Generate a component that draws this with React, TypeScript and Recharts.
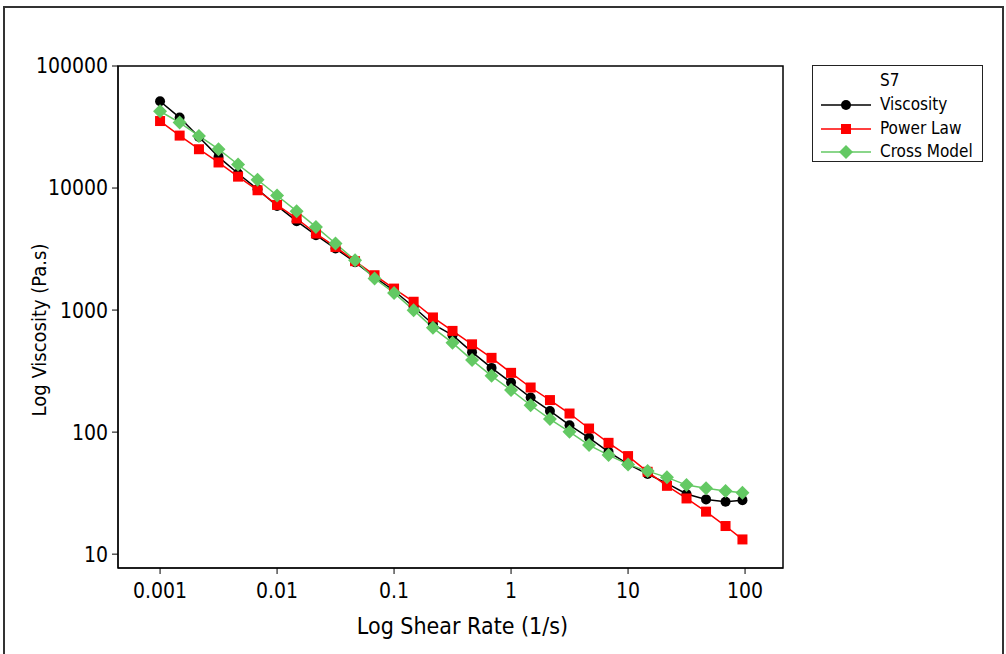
import { LineChart, Line, XAxis, YAxis, ReferenceArea, Label } from "recharts";

const FONT = "'DejaVu Sans Condensed', 'DejaVu Sans', sans-serif";

const shearRate = [
  0.001, 0.00147, 0.00215, 0.00316, 0.00464, 0.00681, 0.01, 0.0147, 0.0215,
  0.0316, 0.0464, 0.0681, 0.1, 0.147, 0.215, 0.316, 0.464, 0.681, 1, 1.47,
  2.15, 3.16, 4.64, 6.81, 10, 14.7, 21.5, 31.6, 46.4, 68.1, 95,
];

const viscosity = [
  51400, 37800, 26200, 18000, 13150, 9780, 7140, 5350, 4110, 3195, 2470,
  1860, 1440, 1060, 766, 623, 452, 336, 255, 192, 149, 114, 89.8, 69, 54.7,
  45.3, 38, 31.1, 28.1, 26.9, 27.7,
];

const powerLaw = [
  35400, 26900, 20800, 16200, 12400, 9590, 7270, 5630, 4240, 3290, 2515,
  1930, 1500, 1170, 870, 675, 524, 406, 306, 232, 183, 142, 107, 81.7, 63.6,
  47.3, 36.3, 28.6, 22.3, 17.0, 13.2,
];

const crossModel = [
  42600, 34400, 26700, 20800, 15600, 11700, 8680, 6460, 4800, 3510, 2560,
  1815, 1383, 998, 715, 539, 389, 289, 221, 166, 128, 100.6, 78.3, 64.8,
  54.4, 47.9, 42.6, 36.8, 34.6, 32.9, 31.8,
];

const xTicks = [0.001, 0.01, 0.1, 1, 10, 100];
const yTicks = [10, 100, 1000, 10000, 100000];
const xDomain = [0.000437, 211];
const yDomain = [7.7, 100000];

const data = shearRate.map((x, i) => ({
  x,
  viscosity: viscosity[i],
  powerLaw: powerLaw[i],
  crossModel: crossModel[i],
}));

const BLACK = "#000000";
const RED = "#ff0000";
const GREEN = "#63c963";

const SquareDot = (props: any) => {
  const { cx, cy, index } = props;
  return <rect key={`sq-${index}`} x={cx - 5} y={cy - 5} width={10} height={10} fill={RED} />;
};

const DiamondDot = (props: any) => {
  const { cx, cy, index } = props;
  const r = 7;
  return (
    <polygon
      key={`dm-${index}`}
      points={`${cx},${cy - r} ${cx + r},${cy} ${cx},${cy + r} ${cx - r},${cy}`}
      fill={GREEN}
    />
  );
};

const legendItems = [
  { name: "Viscosity", color: BLACK, marker: "circle" },
  { name: "Power Law", color: RED, marker: "square" },
  { name: "Cross Model", color: GREEN, marker: "diamond" },
];

function LegendBox() {
  return (
    <div
      style={{
        position: "absolute",
        left: 812,
        top: 65,
        width: 169,
        height: 95,
        border: "1.5px solid #222",
        background: "#fff",
        fontFamily: FONT,
        fontSize: 17,
        color: "#000",
      }}
    >
      <div style={{ position: "absolute", left: 67, top: 4 }}>S7</div>
      {legendItems.map((item, i) => (
        <div
          key={item.name}
          style={{ position: "absolute", left: 0, top: 27 + i * 23.5, height: 22, width: 169 }}
        >
          <svg width={60} height={22} style={{ position: "absolute", left: 0, top: 0 }}>
            <line x1={8} x2={58} y1={12} y2={12} stroke={item.color} strokeWidth={1.5} />
            {item.marker === "circle" && <circle cx={33} cy={12} r={5} fill={item.color} />}
            {item.marker === "square" && <rect x={28} y={7} width={10} height={10} fill={item.color} />}
            {item.marker === "diamond" && (
              <polygon points="33,5 40,12 33,19 26,12" fill={item.color} />
            )}
          </svg>
          <span style={{ position: "absolute", left: 67, top: 1 }}>{item.name}</span>
        </div>
      ))}
    </div>
  );
}

export default function App() {
  return (
    <div style={{ position: "absolute", left: 0, top: 0, width: 1006, height: 654, background: "#fff", overflow: "hidden" }}>
      {/* outer frame */}
      <div
        style={{
          position: "absolute",
          left: 3,
          top: 6,
          width: 997,
          height: 700,
          border: "2px solid #333",
        }}
      />
      <div style={{ position: "absolute", left: 0, top: 0 }}>
        <LineChart
          width={1006}
          height={654}
          data={data}
          margin={{ top: 66, right: 223, bottom: 36, left: 18 }}
          style={{ fontFamily: FONT }}
        >
          <XAxis
            dataKey="x"
            type="number"
            scale="log"
            domain={xDomain}
            allowDataOverflow
            ticks={xTicks}
            tickFormatter={(v) => String(v)}
            height={50}
            tickSize={6}
            tickMargin={9}
            stroke="#000"
            tick={{ fill: "#000", fontSize: 21 }}
          >
            <Label
              content={(p: any) => {
                const vb = p.viewBox;
                return (
                  <text x={vb.x + vb.width / 2 + 12} y={634} textAnchor="middle" fontSize={23} fill="#000">
                    Log Shear Rate (1/s)
                  </text>
                );
              }}
            />
          </XAxis>
          <YAxis
            type="number"
            scale="log"
            domain={yDomain}
            allowDataOverflow
            ticks={yTicks}
            tickFormatter={(v) => String(v)}
            width={100}
            tickSize={6}
            tickMargin={4}
            stroke="#000"
            tick={{ fill: "#000", fontSize: 21 }}
          >
            <Label
              content={() => (
                <text x={46} y={330} textAnchor="middle" fontSize={20} fill="#000" transform="rotate(-90 46 330)">
                  Log Viscosity (Pa.s)
                </text>
              )}
            />
          </YAxis>
          <ReferenceArea
            x1={xDomain[0]}
            x2={xDomain[1]}
            y1={yDomain[0]}
            y2={yDomain[1]}
            fill="none"
            fillOpacity={0}
            stroke="#000"
            strokeWidth={1.5}
          />
          <Line
            dataKey="viscosity"
            stroke={BLACK}
            strokeWidth={1.5}
            dot={{ r: 5, fill: BLACK, stroke: BLACK, strokeWidth: 0 }}
            isAnimationActive={false}
          />
          <Line
            dataKey="powerLaw"
            stroke={RED}
            strokeWidth={1.5}
            dot={SquareDot}
            isAnimationActive={false}
          />
          <Line
            dataKey="crossModel"
            stroke={GREEN}
            strokeWidth={1.5}
            dot={DiamondDot}
            isAnimationActive={false}
          />
        </LineChart>
      </div>
      <LegendBox />
    </div>
  );
}
